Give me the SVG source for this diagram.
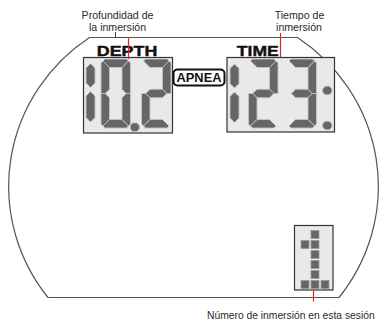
<svg xmlns="http://www.w3.org/2000/svg" width="379" height="321" viewBox="0 0 379 321">
<style>
.outline{fill:none;stroke:#555;stroke-width:1.2}
.box{fill:#e9e9e9;stroke:#333;stroke-width:1.2}
.seg{fill:#666;stroke:#c4c4c4;stroke-width:0.9;stroke-linejoin:round}
.px{fill:#666;stroke:#9a9a9a;stroke-width:0.8}
.lbl{font-family:"Liberation Sans",Arial,sans-serif;font-size:10.6px;fill:#2a2a2a}
.hdr{font-family:"Liberation Sans",Arial,sans-serif;font-weight:bold;font-size:15px;fill:#111;stroke:#111;stroke-width:0.4}
.red{stroke:#e32222;stroke-width:1.2;fill:none}
.tick{stroke:#444;stroke-width:1;fill:none}
</style>
<defs>
<polygon id="sa" class="seg" points="2,2 4,0 25.5,0 27.5,2 21,8.5 8.5,8.5"/>
<polygon id="sb" class="seg" points="27.5,2 29.5,4 29.5,34.5 25.25,34.5 21,30.25 21,8.5"/>
<polygon id="sc" class="seg" points="29.5,34.5 29.5,65 27.5,67 21,60.5 21,38.75 25.25,34.5"/>
<polygon id="sd" class="seg" points="2,67 8.5,60.5 21,60.5 27.5,67 25.5,69 4,69"/>
<polygon id="se" class="seg" points="0,34.5 4.25,34.5 8.5,38.75 8.5,60.5 2,67 0,65"/>
<polygon id="sf" class="seg" points="0,4 2,2 8.5,8.5 8.5,30.25 4.25,34.5 0,34.5"/>
<polygon id="sg" class="seg" points="4.25,34.5 8.5,30.25 21,30.25 25.25,34.5 21,38.75 8.5,38.75"/>
<g id="one">
<polygon class="seg" points="4.5,0 9,4.5 9,19.5 4.5,24 0,19.5 0,4.5"/>
<polygon class="seg" points="4.5,28 9,32.5 9,54 4.5,58.5 0,54 0,32.5"/>
</g>
<polygon id="dot" class="seg" points="-2,-4.3 2,-4.3 4.6,-1.8 4.6,1.8 2,4.3 -2,4.3 -4.6,1.8 -4.6,-1.8"/>
<rect id="p" class="px" width="8" height="8"/>
</defs>

<g id="case">
<path class="outline" d="M89.5,37.5 L297.5,37.5 A184.5,180 0 0 1 339,297.5 L48,297.5 A184.5,180 0 0 1 89.5,37.5 Z"/>
</g>

<g id="depth-display">
<text class="hdr" x="96.8" y="55.5" textLength="60.5" lengthAdjust="spacingAndGlyphs">DEPTH</text>
<rect class="box" x="83.5" y="57.5" width="89" height="75.5"/>
<use href="#one" x="86" y="63.5"/>
<g transform="translate(101,59)">
<use href="#sa"/><use href="#sb"/><use href="#sc"/><use href="#sd"/><use href="#se"/><use href="#sf"/>
</g>
<use href="#dot" x="134.8" y="127.2"/>
<g transform="translate(141.5,59)">
<use href="#sa"/><use href="#sb"/><use href="#sg"/><use href="#se"/><use href="#sd"/>
</g>
</g>

<g id="apnea">
<rect x="173.5" y="69.5" width="51" height="16" rx="4" fill="#fff" stroke="#111" stroke-width="2"/>
<text x="176.5" y="82.3" font-family="'Liberation Sans',Arial,sans-serif" font-weight="bold" font-size="13" fill="#111" textLength="45" lengthAdjust="spacingAndGlyphs">APNEA</text>
</g>

<g id="time-display">
<text class="hdr" x="236.8" y="55.5" textLength="42" lengthAdjust="spacingAndGlyphs">TIME</text>
<rect class="box" x="227" y="57.5" width="107.5" height="74.5"/>
<use href="#one" x="230" y="64"/>
<g transform="translate(248.5,59)">
<use href="#sa"/><use href="#sb"/><use href="#sg"/><use href="#se"/><use href="#sd"/>
</g>
<g transform="translate(287,59)">
<use href="#sa"/><use href="#sb"/><use href="#sg"/><use href="#sc"/><use href="#sd"/>
</g>
<use href="#dot" x="327.3" y="90.5"/>
<use href="#dot" x="327.3" y="125.5"/>
</g>

<g id="dive-counter">
<rect class="box" x="294.5" y="225.5" width="38.5" height="64.5"/>
<use href="#p" x="311" y="230.5"/>
<use href="#p" x="301" y="240.5"/><use href="#p" x="311" y="240.5"/>
<use href="#p" x="311" y="250.5"/>
<use href="#p" x="311" y="260.5"/>
<use href="#p" x="311" y="270.5"/>
<use href="#p" x="301" y="280.5"/><use href="#p" x="311" y="280.5"/><use href="#p" x="321" y="280.5"/>
</g>

<g id="labels">
<text class="lbl" x="117.5" y="19" text-anchor="middle">Profundidad de</text>
<text class="lbl" x="117.5" y="30.5" text-anchor="middle">la inmersión</text>
<text class="lbl" x="299.5" y="19" text-anchor="middle">Tiempo de</text>
<text class="lbl" x="299" y="30.5" text-anchor="middle">inmersión</text>
<text class="lbl" x="207" y="319" style="font-size:10.3px">Número de inmersión en esta sesión</text>
</g>

<g id="connectors">
<polyline class="tick" points="115.5,32 115.5,37.5 128,37.5"/>
<line class="red" x1="128.5" y1="37.5" x2="128.5" y2="59"/>
<line class="red" x1="280.5" y1="33" x2="280.5" y2="57.5"/>
<line class="red" x1="313.5" y1="290.5" x2="313.5" y2="301.5"/>
</g>
</svg>
